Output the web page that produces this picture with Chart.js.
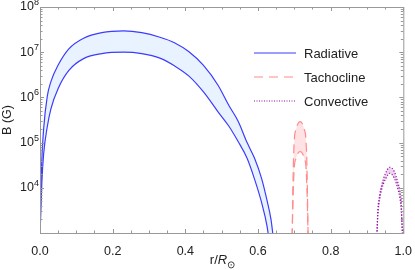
<!DOCTYPE html>
<html>
<head>
<meta charset="utf-8">
<script src="https://cdn.jsdelivr.net/npm/chart.js@4.4.0/dist/chart.umd.min.js"></script>
<style>
  body { margin: 0; background: #fff; font-family: 'Liberation Sans', Arial, sans-serif; }
  #wrap { position: relative; width: 415px; height: 270px; }
  #legend { position: absolute; left: 254px; top: 41px; font-size: 13px; color: #222; }
  #legend .row { height: 24px; display: flex; align-items: center; }
  #legend svg { margin-right: 8px; }
  #xtitle { position: absolute; left: 0; width: 445px; top: 252px; text-align: center; font-size: 13px; color: #222; }
  #xtitle sub { font-size: 10px; }
</style>
</head>
<body>
<div id="wrap">
  <canvas id="grafico" width="415" height="270"></canvas>
  <div id="legend">
    <div class="row"><svg width="42" height="4"><line x1="0" y1="2" x2="42" y2="2" stroke="#3c3cff" stroke-width="1.2"/></svg>Radiative</div>
    <div class="row"><svg width="42" height="4"><line x1="0" y1="2" x2="42" y2="2" stroke="#ff8c8c" stroke-width="1.2" stroke-dasharray="9,6"/></svg>Tachocline</div>
    <div class="row"><svg width="42" height="4"><line x1="0" y1="2" x2="42" y2="2" stroke="#9010a0" stroke-width="1.2" stroke-dasharray="1,1.5"/></svg>Convective</div>
  </div>
  <div id="xtitle">r/<i>R</i><sub>⊙</sub></div>
</div>
<script>
// eixos
const xTicks = [0, 0.2, 0.4, 0.6, 0.8, 1.0];
const yTicks = [1e4, 1e5, 1e6, 1e7, 1e8];

// zona radiativa
const radR = [0, 0.002, 0.005, 0.01, 0.02, 0.03, 0.05, 0.08, 0.12, 0.17, 0.23, 0.28, 0.33, 0.37, 0.41, 0.45, 0.49, 0.52, 0.545, 0.57, 0.59, 0.61, 0.625, 0.636, 0.642];
const radUpper = [1e3, 7.9e3, 4.0e4, 2.0e5, 1.05e6, 2.24e6, 5.2e6, 1.2e7, 2.04e7, 2.7e7, 2.95e7, 2.7e7, 2.14e7, 1.62e7, 1.02e7, 5.1e6, 1.86e6, 6.6e5, 3.0e5, 1.0e5, 4.6e4, 1.6e4, 5.2e3, 1.95e3, 800];
const radLower = [1e3, 2.5e3, 1.26e4, 5.6e4, 2.24e5, 5.6e5, 1.58e6, 4.0e6, 7.2e6, 9.3e6, 1.0e7, 9.3e6, 7.4e6, 5.0e6, 2.95e6, 1.32e6, 4.8e5, 2.3e5, 1.07e5, 4.5e4, 1.6e4, 4.7e3, 1.4e3, 320, 160];

// tacoclina
const tacR = [0.694, 0.697, 0.700, 0.705, 0.710, 0.716, 0.722, 0.727, 0.732, 0.735, 0.738];
const tacUpper = [800, 2.5e4, 1.15e5, 2.0e5, 2.6e5, 2.9e5, 2.6e5, 2.0e5, 1.15e5, 2.5e4, 800];
const tacLower = [800, 8e3, 2.9e4, 4.5e4, 5.8e4, 6.3e4, 5.8e4, 4.5e4, 2.9e4, 8e3, 800];

// zona convectiva
const convR = [0.927, 0.930, 0.935, 0.940, 0.950, 0.963, 0.975, 0.985, 0.990, 0.994, 0.998];
const convUpper = [800, 3.2e3, 7e3, 1.1e4, 2.0e4, 2.85e4, 2.3e4, 1.3e4, 9e3, 5e3, 800];
const convLower = [800, 2.5e3, 5.6e3, 9e3, 1.5e4, 2.1e4, 1.65e4, 9.5e3, 6.3e3, 3.5e3, 800];

const pares = (rs, vs) => rs.map((r, i) => ({ x: r, y: vs[i] }));

function serie(rs, vs, cor, dash, fundo) {
  return {
    data: pares(rs, vs),
    borderColor: cor,
    borderWidth: 1.2,
    borderDash: dash,
    pointRadius: 0,
    cubicInterpolationMode: 'monotone',
    fill: fundo ? '-1' : false,
    backgroundColor: fundo || 'transparent'
  };
}

// moldura com ticks para dentro e rótulos 10^n
const moldura = {
  id: 'moldura',
  afterDraw(chart) {
    const { ctx, chartArea: a, scales: { x, y } } = chart;
    ctx.save();
    ctx.strokeStyle = '#999';
    ctx.lineWidth = 1;
    ctx.strokeRect(a.left + 0.5, a.top + 0.5, a.right - a.left, a.bottom - a.top);
    ctx.beginPath();
    for (let i = 0; i <= 20; i++) {
      const px = Math.round(x.getPixelForValue(i * 0.05)) + 0.5;
      const len = i % 4 === 0 ? 4 : 2.5;
      ctx.moveTo(px, a.bottom); ctx.lineTo(px, a.bottom - len);
      ctx.moveTo(px, a.top); ctx.lineTo(px, a.top + len);
    }
    for (let e = 3; e < 8; e++) {
      for (let m = 1; m <= 9; m++) {
        const v = m * Math.pow(10, e);
        if (v < y.min) continue;
        const py = Math.round(y.getPixelForValue(v)) + 0.5;
        const len = m === 1 ? 4 : 2.5;
        ctx.moveTo(a.left, py); ctx.lineTo(a.left + len, py);
        ctx.moveTo(a.right, py); ctx.lineTo(a.right - len, py);
      }
    }
    ctx.stroke();

    ctx.fillStyle = '#222';
    ctx.textBaseline = 'middle';
    yTicks.forEach(v => {
      const py = y.getPixelForValue(v);
      const exp = String(Math.round(Math.log10(v)));
      ctx.font = '9px "Liberation Sans", Arial, sans-serif';
      const we = ctx.measureText(exp).width;
      ctx.textAlign = 'right';
      ctx.fillText(exp, a.left - 1, py - 4.5);
      ctx.font = '12.5px "Liberation Sans", Arial, sans-serif';
      ctx.fillText('10', a.left - 1 - we, py);
    });
    ctx.restore();
  }
};

new Chart(document.getElementById('grafico'), {
  type: 'line',
  data: {
    datasets: [
      serie(radR, radUpper, '#3c3cff', [], null),
      serie(radR, radLower, '#3c3cff', [], 'rgba(232,243,255,1)'),
      serie(tacR, tacUpper, '#ff8c8c', [9, 5], null),
      serie(tacR, tacLower, '#ff8c8c', [9, 5], 'rgba(255,226,228,1)'),
      serie(convR, convUpper, '#9010a0', [1.2, 1.8], null),
      serie(convR, convLower, '#9010a0', [1.2, 1.8], 'rgba(238,212,238,1)')
    ]
  },
  options: {
    responsive: false,
    animation: false,
    layout: { padding: { top: 7, right: 10, left: 0, bottom: 0 } },
    plugins: { legend: { display: false }, tooltip: { enabled: false } },
    scales: {
      x: {
        type: 'linear', min: 0, max: 1,
        afterBuildTicks: s => { s.ticks = xTicks.map(v => ({ value: v })); },
        afterFit: s => { s.height = 37; },
        ticks: {
          callback: v => v.toFixed(1),
          font: { size: 12.5, family: '"Liberation Sans", Arial, sans-serif' },
          color: '#222', padding: 3, maxRotation: 0
        },
        grid: { display: false },
        border: { display: false }
      },
      y: {
        type: 'logarithmic', min: 1000, max: 1e8,
        afterFit: s => { s.width = 40; },
        ticks: { display: false },
        grid: { display: false },
        border: { display: false },
        title: {
          display: true, text: 'B (G)', color: '#222', padding: { top: 0, bottom: 2 },
          font: { size: 12.5, family: '"Liberation Sans", Arial, sans-serif' }
        }
      }
    }
  },
  plugins: [moldura]
});
</script>
</body>
</html>
